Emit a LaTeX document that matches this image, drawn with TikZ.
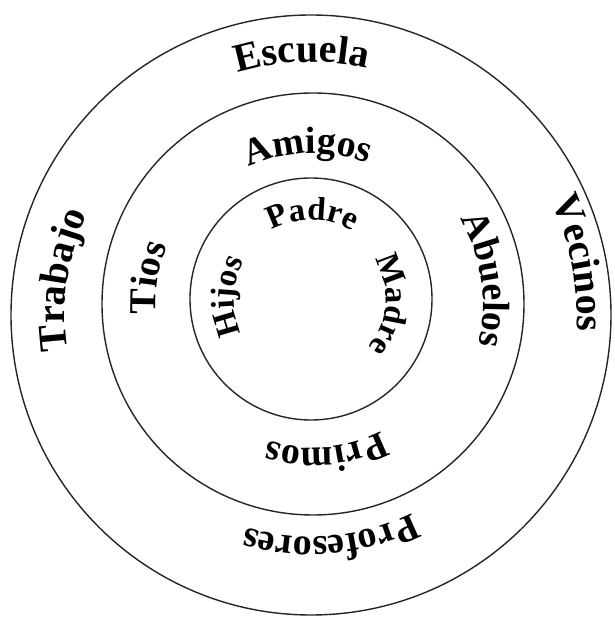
\documentclass[tikz,border=0pt]{standalone}
\usepackage{fontspec}
\setmainfont{Liberation Serif}
\usetikzlibrary{calc, decorations.text}

\newcommand{\outerfont}{\fontsize{40}{44}\selectfont\bfseries}
\newcommand{\midfont}{\fontsize{38}{42}\selectfont\bfseries}
\newcommand{\innerfont}{\fontsize{33}{37}\selectfont\bfseries}

\begin{document}
\begin{tikzpicture}[x=1pt, y=1pt,
    ring/.style={line width=1.4pt, draw=black!85},
    bandtext/.style={decorate, text=black!85,
                     decoration={text along path, text align=center, text={#1}}},
  ]
    \useasboundingbox[fill=white] (0,0) rectangle (614,619);

    % centres of the three rings
    \coordinate (outerC) at (311,304);
    \coordinate (midC)   at (313,315);
    \coordinate (innerC) at (311,320);

    \draw[ring] (outerC) circle[radius=300];
    \draw[ring] (midC)   circle[radius=211];
    \draw[ring] (innerC) circle[radius=121];

    % outer ring
    \path[bandtext={|\outerfont|Escuela}]    ($(outerC)+(172:253)$) arc[start angle=172, end angle=12,  radius=253];
    \path[bandtext={|\outerfont|Trabajo}]    ($(outerC)+(252:246)$) arc[start angle=252, end angle=92,  radius=246];
    \path[bandtext={|\outerfont|Vecinos}]    ($(outerC)+(91:266)$)  arc[start angle=91,  end angle=-69, radius=266];
    \path[bandtext={|\fontsize{38}{42}\selectfont\bfseries|Profesores}] ($(outerC)+(355:222)$) arc[start angle=355, end angle=195, radius=222];

    % middle ring
    \path[bandtext={|\midfont|Amigos}]  ($(midC)+(172:151)$) arc[start angle=172, end angle=12,  radius=151];
    \path[bandtext={|\midfont|Abuelos}] ($(midC)+(88:170)$)  arc[start angle=88,  end angle=-72, radius=170];
    \path[bandtext={|\midfont|Tios}]    ($(midC)+(251:157)$) arc[start angle=251, end angle=91,  radius=157];
    \path[bandtext={|\midfont|Primos}]  ($(midC)+(355:144)$) arc[start angle=355, end angle=195, radius=144];

    % inner ring
    \path[bandtext={|\innerfont|Padre}] ($(innerC)+(169:79)$) arc[start angle=169, end angle=9,   radius=79];
    \path[bandtext={|\innerfont|Madre}] ($(innerC)+(76:75)$)  arc[start angle=76,  end angle=-84, radius=75];
    \path[bandtext={|\innerfont|Hijos}] ($(innerC)+(258:77)$) arc[start angle=258, end angle=98,  radius=77];
  \end{tikzpicture}
\end{document}
